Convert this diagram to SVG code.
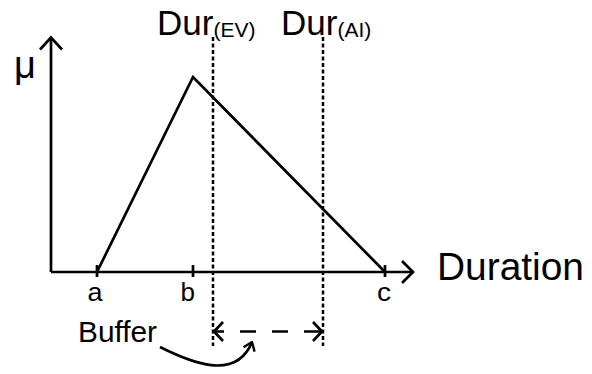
<svg xmlns="http://www.w3.org/2000/svg" width="592" height="374" viewBox="0 0 592 374">
<defs>
<style>
.ln{fill:none;stroke:#000;stroke-width:2.7}
.dot{fill:none;stroke:#000;stroke-width:2.5;stroke-dasharray:4 2.5}
.t{font-family:"Liberation Sans",Arial,sans-serif;fill:#000}
</style>
<marker id="curv" viewBox="0 0 10 14" refX="9" refY="7" markerWidth="10" markerHeight="14" markerUnits="userSpaceOnUse" orient="auto">
<path d="M1,1 L9,7 L1,13" fill="none" stroke="#000" stroke-width="2.4"/>
</marker>
</defs>
<rect width="592" height="374" fill="#fff"/>
<g id="axes">
<path class="ln" d="M51,272 V37"/>
<path class="ln" d="M40,49.5 L51,37.5 L62,49.5"/>
<path class="ln" d="M51,272 H413"/>
<path class="ln" d="M402,261 L413,272 L402,283"/>
<path class="ln" d="M97,265 V277 M193,265 V277 M385,265 V277"/>
</g>
<g id="triangle">
<path class="ln" d="M97,272 L193,77 L385,272"/>
</g>
<g id="guides">
<path class="dot" d="M213,37 V346"/>
<path class="dot" d="M323,37 V346"/>
</g>
<g id="connectors">
<path class="ln" d="M213,331.5 H323" stroke-dasharray="11 16 16 16 16 16 19"/>
<path class="ln" d="M223,322 L214,331.5 L223,341"/>
<path class="ln" d="M313,322 L322,331.5 L313,341"/>
<path class="ln" d="M160,347 C190,362 236,382 252,342" marker-end="url(#curv)"/>
</g>
<g id="labels">
<text class="t" x="14" y="78" font-size="38">μ</text>
<text class="t" x="157" y="35" font-size="35">Dur<tspan font-size="21" dy="1.5">(EV)</tspan></text>
<text class="t" x="281" y="35" font-size="35">Dur<tspan font-size="21" dy="1.5">(AI)</tspan></text>
<text class="t" x="437" y="280" font-size="38" textLength="147" lengthAdjust="spacingAndGlyphs">Duration</text>
<text class="t" x="87.5" y="300.5" font-size="25" textLength="15" lengthAdjust="spacingAndGlyphs">a</text>
<text class="t" x="180.5" y="300.5" font-size="25" textLength="14.5" lengthAdjust="spacingAndGlyphs">b</text>
<text class="t" x="377" y="300.5" font-size="25" textLength="14" lengthAdjust="spacingAndGlyphs">c</text>
<text class="t" x="78" y="342" font-size="29" textLength="79" lengthAdjust="spacingAndGlyphs">Buffer</text>
</g>
</svg>
